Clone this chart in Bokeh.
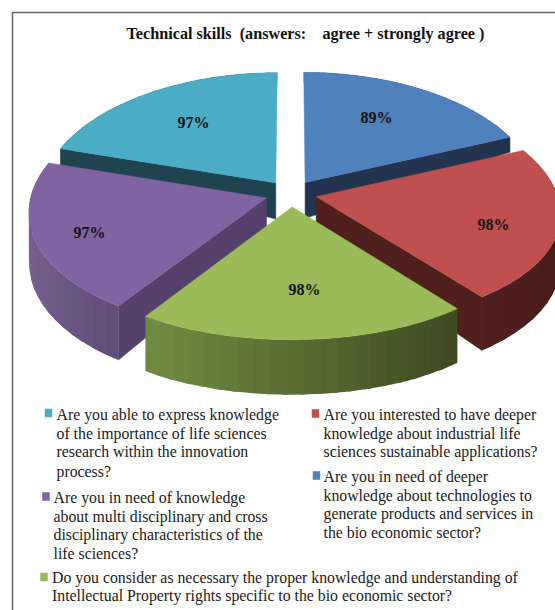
import numpy as np
from bokeh.plotting import figure
from bokeh.models import Range1d
from bokeh.core.properties import value
from bokeh.embed import file_html
from bokeh.resources import INLINE

title = "Technical skills \u00a0(answers: \u00a0 \u00a0agree + strongly agree )"
series = ["blue", "red", "green", "purple", "teal"]
values = [89, 98, 98, 97, 97]
tops = ["#4f81bd", "#c0504d", "#9bbb59", "#8064a2", "#4bacc6"]
cuts = ["#22344f", "#4f1f1e", "#3c4a20", "#54406a", "#1f4450"]
wall_left = ["#2a4060", "#4f1f1e", "#718c42", "#75608f", "#1f4450"]
wall_right = ["#22344f", "#4a1d1c", "#3c4a20", "#5f4b76", "#1f4450"]
bulge = [0.0, 0.03, -0.012, 0.0, 0.0]
label_x = [376, 493, 304, 89, 193]
label_y = [117, 224, 289, 232, 122]

legend_text = [
    ("teal", 56, [414, 433, 451, 471], ["Are you able to express knowledge", "of the importance of life sciences", "research within the innovation", "process?"]),
    ("red", 323, [414, 433, 451], ["Are you interested to have deeper", "knowledge about industrial life", "sciences sustainable applications?"]),
    ("blue", 323, [476, 495, 513, 532], ["Are you in need of deeper", "knowledge about technologies to", "generate products and services in", "the bio economic sector?"]),
    ("purple", 53, [497, 516, 534, 553], ["Are you in need of knowledge", "about multi disciplinary and cross", "disciplinary characteristics of the", "life sciences?"]),
    ("green", 51.5, [577, 595], ["Do you consider as necessary the proper knowledge and understanding of", "Intellectual Property rights specific to the bio economic sector?"]),
]
swatches = {"teal": (48, 412.5), "red": (315, 413), "blue": (316, 475), "purple": (45.5, 496), "green": (43.5, 576.5)}

FONT = "Liberation Serif"
CX, CY, R0, H, KX, KY, EXPL = 290.5, 193, 235, 121, 0.108, 0.083, 0.11

p = figure(width=555, height=610, x_range=Range1d(0, 555), y_range=Range1d(610, 0),
           output_backend="svg", toolbar_location=None, min_border=0)
p.axis.visible = False
p.grid.visible = False
p.outline_line_color = None
p.background_fill_color = "#ffffff"


def proj(X, Y):
    return CX + R0 * X / (1 + KX * Y), CY - H * Y / (1 + KY * Y)


def depth(Y):
    return np.interp(-np.asarray(Y), [-1, -0.4, -0.09, 0.3, 1], [10, 16, 36, 50, 55])


def mix(c1, c2, t):
    a = [int(c1[i:i + 2], 16) for i in (1, 3, 5)]
    b = [int(c2[i:i + 2], 16) for i in (1, 3, 5)]
    return "#%02x%02x%02x" % tuple(int(round(u + (v - u) * t)) for u, v in zip(a, b))


# frame
p.line([12, 12, 555], [610, 12, 12], line_color="#666666", line_width=1.5)

# slices
total = sum(values)
spans = np.array(values) / total * 2 * np.pi
starts = np.pi / 2 - np.concatenate([[0], np.cumsum(spans)[:-1]])
mids = starts - spans / 2
order = np.argsort(-np.sin(mids))

for i in order:
    ex, ey = EXPL * np.cos(mids[i]), EXPL * np.sin(mids[i])
    t = np.linspace(0, 1, 61)
    ang = starts[i] - spans[i] * t
    r = 1 + bulge[i] * np.sin(np.pi * t)
    X = ex + r * np.cos(ang)
    Y = ey + r * np.sin(ang)
    sx, sy = proj(X, Y)
    bot = sy + depth(Y)
    ax, ay = proj(np.array([ex]), np.array([ey]))
    abot = ay + depth([ey])
    # flat cut faces that look toward the viewer
    for a, j, sign in ((starts[i], 0, 1), (starts[i] - spans[i], -1, -1)):
        if np.sin(a + sign * np.pi / 2) < 0:
            p.patch([ax[0], sx[j], sx[j], ax[0]], [ay[0], sy[j], bot[j], abot[0]],
                    fill_color=cuts[i], line_color=cuts[i], line_width=0.5)
    # outer wall with its left to right shading; overlapping pieces hide the seams
    xs, ys, cols = [], [], []
    lo, hi = sx.min(), sx.max()
    step = 3
    for n in range(0, 60, step):
        m = min(n + step + 1, 60)
        xs.append(list(sx[n:m + 1]) + list(sx[n:m + 1][::-1]))
        ys.append(list(sy[n:m + 1]) + list(bot[n:m + 1][::-1]))
        cols.append(mix(wall_left[i], wall_right[i], ((sx[n] + sx[m]) / 2 - lo) / (hi - lo)))
    p.patches(xs, ys, fill_color=cols, line_color=None)
    p.patch(np.r_[ax, sx], np.r_[ay, sy], fill_color=tops[i], line_color=tops[i], line_width=0.5)

# data labels
p.text(label_x, label_y, text=[f"{v}%" for v in values], text_font=value(FONT), text_font_style="bold",
       text_font_size="16px", text_align="center", text_baseline="middle", text_color="#111111")

# title
p.text([305], [33], text=[title], text_font=value(FONT), text_font_style="bold", text_font_size="16.2px",
       text_align="center", text_baseline="middle", text_color="#111111")

# legend
for name, x0, ylist, lines in legend_text:
    k = series.index(name)
    sq = swatches[name]
    p.rect([sq[0]], [sq[1]], width=7.5, height=8.5, fill_color=tops[k], line_color=None)
    p.text([x0] * len(lines), ylist, text=lines, text_font=value(FONT), text_font_size="15.8px",
           text_align="left", text_baseline="middle", text_color="#1a1a1a")

open("out.html", "w").write(file_html(p, INLINE))
